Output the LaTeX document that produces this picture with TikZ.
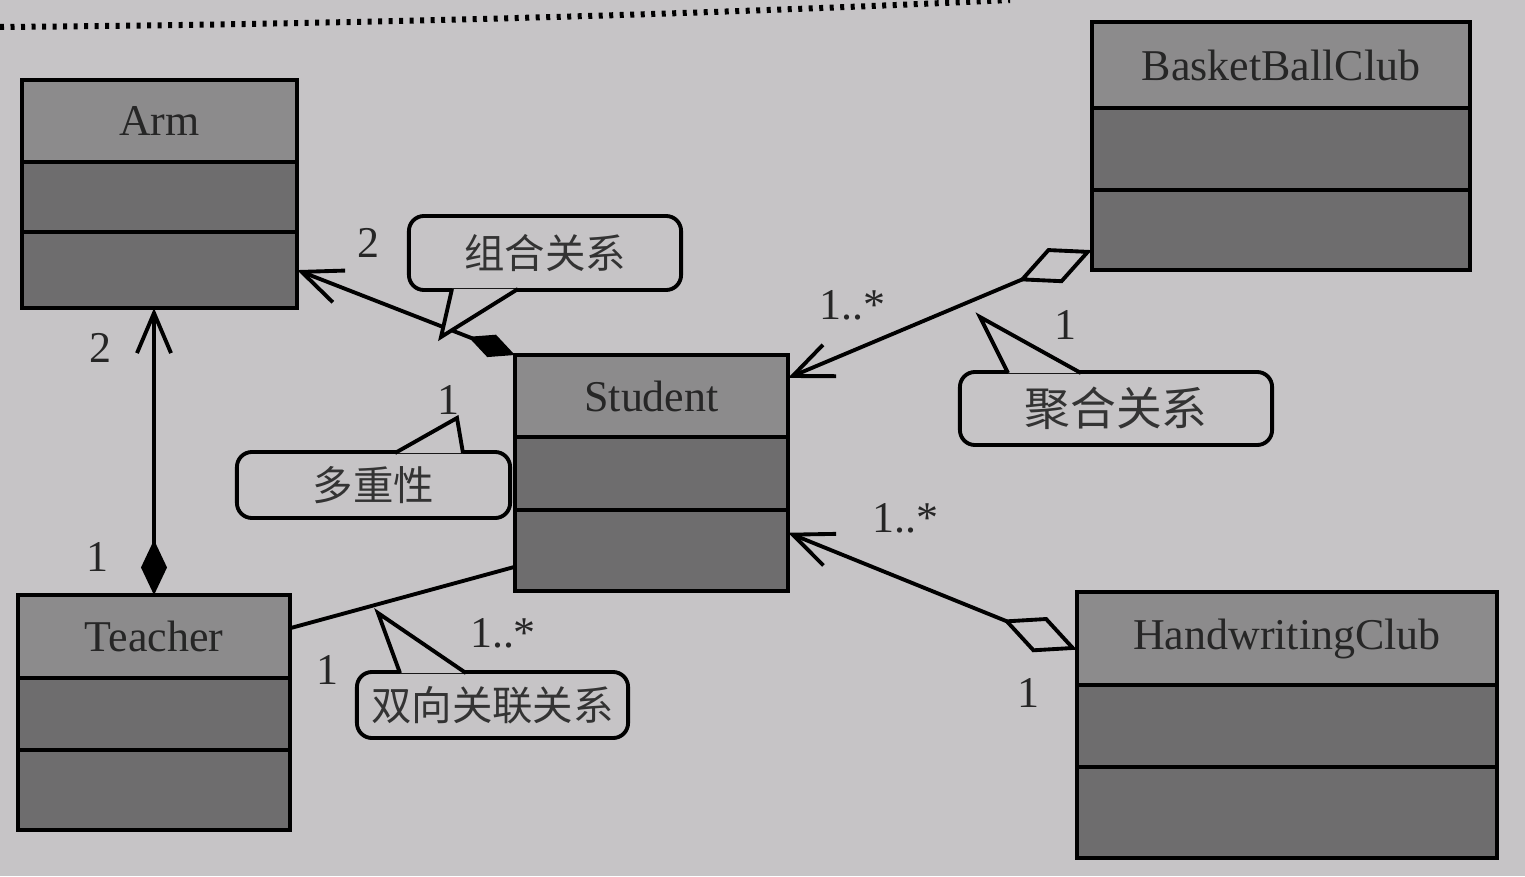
\documentclass[tikz,border=0pt]{standalone}
\usepackage{fontspec}
\setmainfont{Liberation Serif}
\newfontfamily\cjk{Noto Sans CJK SC}
\usepackage{tikz}
\definecolor{paper}{HTML}{C6C4C6}
\definecolor{gray600}{HTML}{8C8B8C}
\definecolor{gray700}{HTML}{6E6D6E}
\usetikzlibrary{arrows.meta,positioning,calc}
\tikzstyle{classname}=[rectangle, draw=black, fill=gray600, outer sep=0pt, inner sep=0pt, text=black!85, font={\fontsize{12.5}{14}\selectfont}]
\tikzstyle{classpart}=[rectangle, draw=black, fill=gray700, outer sep=0pt, inner sep=0pt]
\tikzstyle{bubble}=[rectangle, rounded corners=1.5mm, draw=black, fill=paper, text=black!80, font={\cjk\fontsize{11.5}{13}\selectfont}]
\tikzstyle{mult}=[text=black!85, font={\fontsize{12.5}{14}\selectfont}]
\tikzstyle{openhead}=[-{Straight Barb[length=4mm,width=3.4mm]}]

\begin{document}
\begin{tikzpicture}[x=0.01cm, y=-0.01cm, line width=1.1pt]
	\fill[paper] (0,0) rectangle (1525,876);
	\useasboundingbox (0,0) rectangle (1525,876);
	\draw[line width=0.6mm, dash pattern=on 0.4mm off 0.65mm] (0,27) .. controls (400,24) and (750,12) .. (1010,0);

	% classes
	\node[classname, minimum width=2.75cm, minimum height=0.82cm] (arm) at (159.5,121) {Arm};
	\node[classpart, minimum width=2.75cm, minimum height=0.70cm, below=0pt of arm] (arm1) {};
	\node[classpart, minimum width=2.75cm, minimum height=0.76cm, below=0pt of arm1] (arm2) {};

	\node[classname, minimum width=2.73cm, minimum height=0.82cm] (student) at (651.5,396) {Student};
	\node[classpart, minimum width=2.73cm, minimum height=0.73cm, below=0pt of student] (st1) {};
	\node[classpart, minimum width=2.73cm, minimum height=0.81cm, below=0pt of st1] (st2) {};

	\node[classname, minimum width=2.72cm, minimum height=0.83cm] (teacher) at (154,636.5) {Teacher};
	\node[classpart, minimum width=2.72cm, minimum height=0.72cm, below=0pt of teacher] (te1) {};
	\node[classpart, minimum width=2.72cm, minimum height=0.80cm, below=0pt of te1] (te2) {};

	\node[classname, minimum width=3.78cm, minimum height=0.86cm] (basket) at (1281,65) {BasketBallClub};
	\node[classpart, minimum width=3.78cm, minimum height=0.82cm, below=0pt of basket] (bc1) {};
	\node[classpart, minimum width=3.78cm, minimum height=0.80cm, below=0pt of bc1] (bc2) {};

	\node[classname, minimum width=4.2cm, minimum height=0.93cm] (hand) at (1287,638.5) {HandwritingClub};
	\node[classpart, minimum width=4.2cm, minimum height=0.82cm, below=0pt of hand] (hw1) {};
	\node[classpart, minimum width=4.2cm, minimum height=0.91cm, below=0pt of hw1] (hw2) {};

	% relations
	\draw[{Diamond[length=5mm,width=2.4mm]}-{Straight Barb[length=4mm,width=3.4mm]}] (student.north west) -- (arm2.east);
	\draw[{Diamond[length=5.5mm,width=2.6mm]}-{Straight Barb[length=4mm,width=3.4mm]}] (teacher.north) -- (teacher.north |- arm2.south);
	\draw ($(teacher.north east)!0.4!(teacher.south east)$) -- ($(st2.north west)!0.7!(st2.south west)$);
	\draw[{Diamond[open,length=8mm,width=3.8mm]}-{Straight Barb[length=4mm,width=3.4mm]}] ($(bc2.north west)!0.75!(bc2.south west)$) -- ($(student.north east)!0.28!(student.south east)$);
	\draw[{Diamond[open,length=8mm,width=3.8mm]}-{Straight Barb[length=4mm,width=3.4mm]}] ($(hand.north west)!0.62!(hand.south west)$) -- ($(st2.north east)!0.28!(st2.south east)$);

	% multiplicities
	\node[mult] (m1) at (368,243) {2};
	\node[mult] (m2) at (100,348) {2};
	\node[mult] (m3) at (97,557) {1};
	\node[mult] (m4) at (448,400) {1};
	\node[mult] (m5) at (327,670) {1};
	\node[mult] (m6) at (503,633) {1..*};
	\node[mult] (m7) at (852,305) {1..*};
	\node[mult] (m8) at (1065,325) {1};
	\node[mult] (m9) at (905,518) {1..*};
	\node[mult] (m10) at (1028,693) {1};

	% notes
	\node[bubble, minimum width=2.72cm, minimum height=0.74cm] (zuhe) at (545,253) {组合关系};
	\coordinate (zuhetip) at (441,337);
	\fill[paper] ($(zuhe.south west)+(45,-3)$) -- (zuhetip) -- ($(zuhe.south west)+(111,-3)$) -- cycle;
	\draw ($(zuhe.south west)+(45,-3)$) -- (zuhetip) -- ($(zuhe.south west)+(111,-3)$);

	\node[bubble, minimum width=3.12cm, minimum height=0.73cm, font={\cjk\fontsize{13}{15}\selectfont}] (juhe) at (1116,408.5) {聚合关系};
	\coordinate (juhetip) at (980,317);
	\fill[paper] ($(juhe.north west)+(50,3)$) -- (juhetip) -- ($(juhe.north west)+(123,3)$) -- cycle;
	\draw ($(juhe.north west)+(50,3)$) -- (juhetip) -- ($(juhe.north west)+(123,3)$);

	\node[bubble, minimum width=2.73cm, minimum height=0.66cm] (duo) at (373.5,485) {多重性};
	\coordinate (duotip) at (457,418);
	\fill[paper] ($(duo.north west)+(160,3)$) -- (duotip) -- ($(duo.north west)+(228,3)$) -- cycle;
	\draw ($(duo.north west)+(160,3)$) -- (duotip) -- ($(duo.north west)+(228,3)$);

	\node[bubble, minimum width=2.71cm, minimum height=0.66cm] (shuang) at (492.5,705) {双向关联关系};
	\coordinate (shuangtip) at (378,613);
	\fill[paper] ($(shuang.north west)+(45,3)$) -- (shuangtip) -- ($(shuang.north west)+(111,3)$) -- cycle;
	\draw ($(shuang.north west)+(45,3)$) -- (shuangtip) -- ($(shuang.north west)+(111,3)$);
\end{tikzpicture}
\end{document}
